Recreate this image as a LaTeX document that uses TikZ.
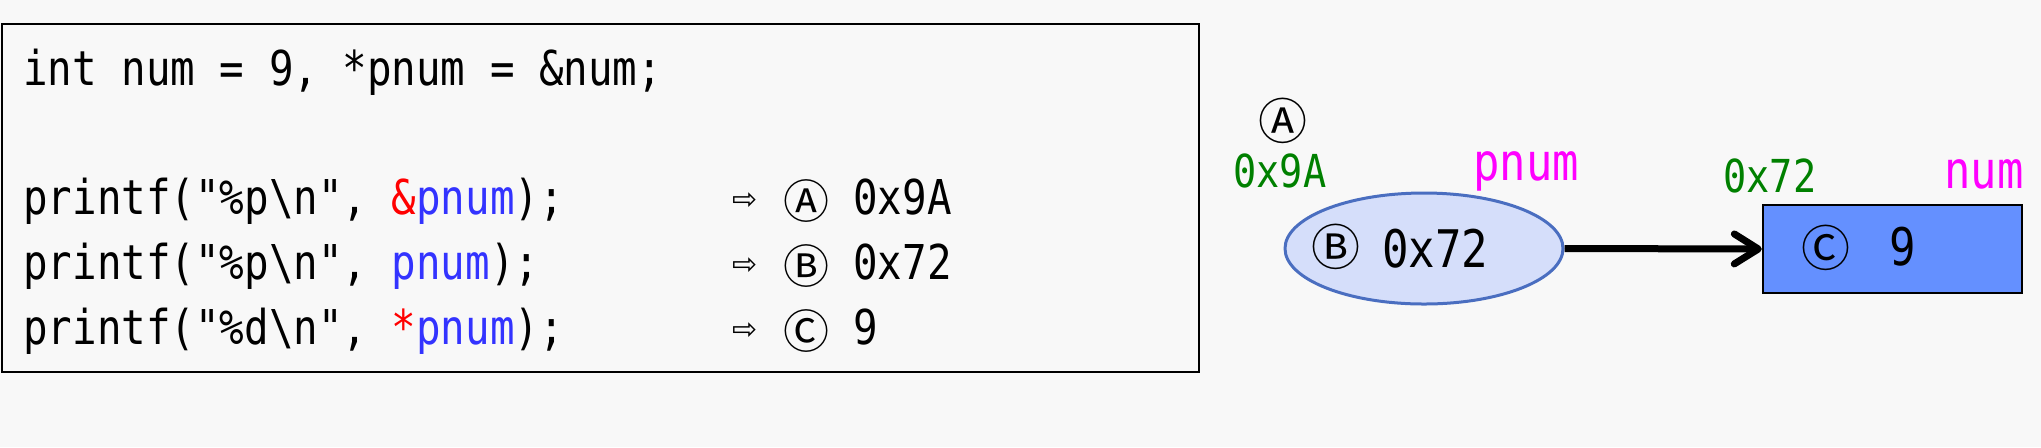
\documentclass[tikz,border=0pt]{standalone}
\usepackage{fontspec}
\usetikzlibrary{arrows.meta,shapes.geometric}
\newfontfamily\codefont[FakeStretch=0.85]{DejaVu Sans Mono}
\newfontfamily\cjkfont{Noto Sans CJK JP}
\newfontfamily\symfont{DejaVu Sans}
\definecolor{bg}{HTML}{F8F8F8}
\definecolor{codered}{HTML}{FF0000}
\definecolor{codeblue}{HTML}{3333FF}
\definecolor{addrgreen}{HTML}{008000}
\definecolor{namemag}{HTML}{FF00FF}
\definecolor{ellfill}{HTML}{D5DEFA}
\definecolor{elldraw}{HTML}{4A6EC0}
\definecolor{rectfill}{HTML}{6490FF}
\begin{document}
\begin{tikzpicture}[x=0.5pt,y=-0.5pt,
  code/.style={anchor=base west, inner sep=0pt, font=\codefont\fontsize{24pt}{28pt}\selectfont},
  addr/.style={anchor=base west, inner sep=0pt, text=addrgreen, font=\codefont\fontsize{22.7pt}{26pt}\selectfont},
  varname/.style={anchor=base west, inner sep=0pt, text=namemag, font=\codefont\fontsize{25.8pt}{30pt}\selectfont},
  bigval/.style={anchor=base west, inner sep=0pt, font=\codefont\fontsize{25.9pt}{30pt}\selectfont},
  circsmall/.style={anchor=center, inner sep=0pt, font=\cjkfont\fontsize{23pt}{26pt}\selectfont},
  circbig/.style={anchor=center, inner sep=0pt, font=\cjkfont\fontsize{24.5pt}{28pt}\selectfont},
  resarrow/.style={anchor=center, inner sep=0pt, font=\symfont\fontsize{15pt}{18pt}\selectfont},
  frame/.style={draw=black, line width=1.2pt, minimum width=598.5pt, minimum height=174pt, inner sep=0pt},
  ptrell/.style={ellipse, draw=elldraw, fill=ellfill, line width=1.5pt, minimum width=139pt, minimum height=55.5pt, inner sep=0pt},
  valbox/.style={rectangle, draw=black, fill=rectfill, line width=1.2pt, minimum width=129.5pt, minimum height=44pt, inner sep=0pt},
  ptrarrow/.style={line width=3.5pt, -{Straight Barb[length=12pt, width=15pt, line cap=round, line join=round]}}
]
\fill[bg] (0,0) rectangle (2041,447);
\useasboundingbox (0,0) rectangle (2041,447);
% code box
\node[frame] (codebox) at (600.25,198) {};
\node[code] (l1) at (23,85) {int num = 9, *pnum = \&num;};
\node[code] (l2) at (23,214) {printf("\%p\textbackslash n", \textcolor{codered}{\&}\textcolor{codeblue}{pnum});};
\node[code] (l3) at (23,279) {printf("\%p\textbackslash n", \textcolor{codeblue}{pnum});};
\node[code] (l4) at (23,344) {printf("\%d\textbackslash n", \textcolor{codered}{*}\textcolor{codeblue}{pnum});};
% results
\node[resarrow] (ra1) at (745,201) {⇨};
\node[circsmall] (rc1) at (806,201) {Ⓐ};
\node[code] (rv1) at (853,214) {0x9A};
\node[resarrow] (ra2) at (745,266) {⇨};
\node[circsmall] (rc2) at (806,266) {Ⓑ};
\node[code] (rv2) at (853,279) {0x72};
\node[resarrow] (ra3) at (745,331) {⇨};
\node[circsmall] (rc3) at (806,331) {Ⓒ};
\node[code] (rv3) at (853,344) {9};
% memory diagram
\node[circbig] (ma) at (1283,121) {Ⓐ};
\node[addr] (pa) at (1233,187) {0x9A};
\node[varname] (pn) at (1473,180) {pnum};
\node[ptrell] (ptr) at (1424,248.5) {};
\node[circbig] (mb) at (1336,247) {Ⓑ};
\node[bigval] (pv) at (1382,267) {0x72};
\node[valbox] (val) at (1892.5,249) {};
\node[circbig] (mc) at (1826,248) {Ⓒ};
\node[bigval] (vv) at (1889,265) {9};
\node[addr] (va) at (1723,192) {0x72};
\node[varname] (vn) at (1944,188) {num};
\draw[ptrarrow] (ptr.east) -- (val.west);
\end{tikzpicture}
\end{document}
